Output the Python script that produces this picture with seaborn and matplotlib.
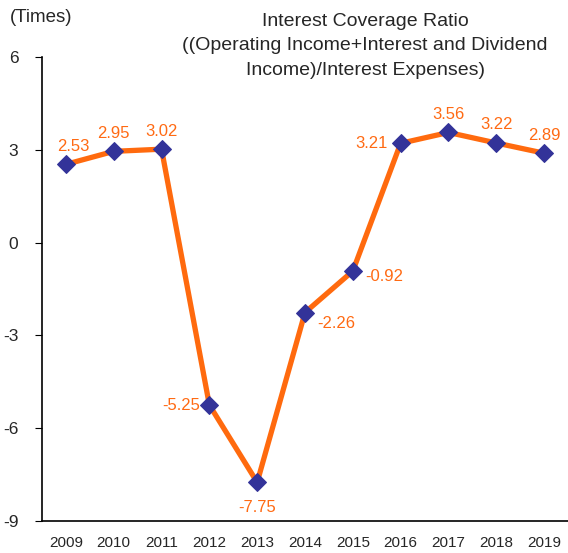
import matplotlib
matplotlib.use("Agg")
import matplotlib.pyplot as plt
import seaborn as sns
import pandas as pd

years = ["2009", "2010", "2011", "2012", "2013", "2014", "2015", "2016", "2017", "2018", "2019"]
values = [2.53, 2.95, 3.02, -5.25, -7.75, -2.26, -0.92, 3.21, 3.56, 3.22, 2.89]
y_ticks = [6, 3, 0, -3, -6, -9]

sns.set_theme(style="white")
plt.rcParams['font.family'] = ['Liberation Sans', 'DejaVu Sans']

df = pd.DataFrame({"idx": range(len(years)), "year": years, "value": values})

fig = plt.figure(figsize=(5.68, 5.53), dpi=100)
ax = fig.add_axes([42/568, 32/553, 1 - 42/568, (521-57)/553])

sns.lineplot(data=df, x="idx", y="value", ax=ax, color="#FF6A0E", linewidth=3.8,
             marker="D", markersize=9, markerfacecolor="#333399", markeredgecolor="#333399",
             zorder=3)

ax.set_xlim(-0.5, 10.5)
ax.set_ylim(-9, 6)
ax.set_yticks(y_ticks)
ax.set_yticklabels([str(t) for t in y_ticks], fontsize=12.5)
ax.set_xticks([i + 0.5 for i in range(10)])
ax.set_xticklabels([])
ax.set_xticks(range(len(years)), minor=True)
ax.set_xticklabels(years, minor=True, fontsize=11)
ax.tick_params(axis="x", which="major", direction="in", length=5, width=0.8, color="black")
ax.tick_params(axis="x", which="minor", length=0, pad=11)
ax.tick_params(axis="y", direction="out", length=5, width=0.8, color="black", pad=12, left=True)
ax.set_xlabel("")
ax.set_ylabel("")
for s in ["top", "right"]:
    ax.spines[s].set_visible(False)
for s in ["left", "bottom"]:
    ax.spines[s].set_color("black")
    ax.spines[s].set_linewidth(1.2)

# label offsets (points)
offsets = [(5, 13, "center"), (0, 13, "center"), (0, 13, "center"), (-7, 0, "right"),
           (0, -18, "center"), (9, -8, "left"), (9, -4, "left"), (-9, 0, "right"),
           (0, 13, "center"), (0, 13, "center"), (0, 13, "center")]
for i, v in enumerate(values):
    dx, dy, ha = offsets[i]
    ax.annotate(f"{v:.2f}", (i, v), xytext=(dx, dy), textcoords="offset points",
                ha=ha, va="center", color="#FF6A13", fontsize=12)

fig.text(10/568, 1 - 18/553, "(Times)", fontsize=13.5, ha="left", va="center")
fig.text(365/568, 1 - 46/553,
         "Interest Coverage Ratio\n((Operating Income+Interest and Dividend\nIncome)/Interest Expenses)",
         fontsize=14, ha="center", va="center", linespacing=1.55)

fig.savefig("out.png", dpi=100)
